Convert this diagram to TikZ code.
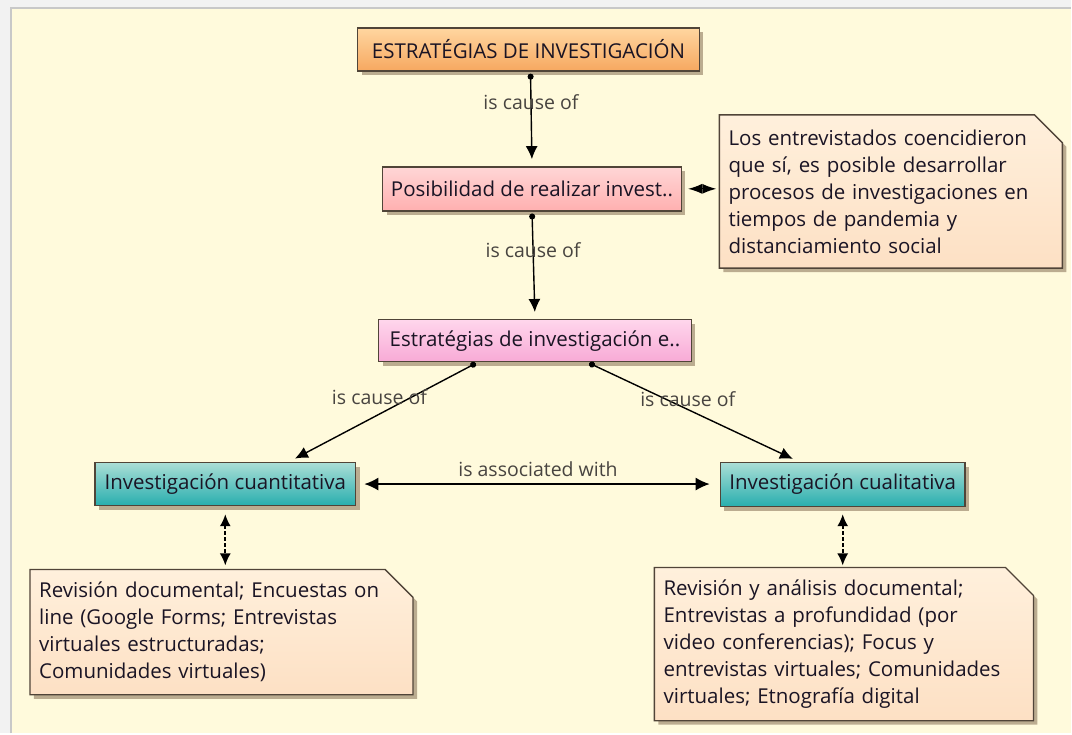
\documentclass[tikz,border=0pt]{standalone}
\usepackage{fontspec}
\setmainfont{Open Sans}
\usetikzlibrary{arrows.meta,shadows,backgrounds}

\definecolor{paper}{RGB}{255,250,220}
\definecolor{framecol}{RGB}{242,242,242}
\definecolor{rimcol}{RGB}{200,200,200}
\definecolor{edgecol}{RGB}{80,68,56}
\definecolor{inkcol}{RGB}{26,20,36}
\definecolor{linkcol}{RGB}{72,68,64}
\definecolor{shadecol}{RGB}{120,95,70}
\definecolor{orangetop}{RGB}{255,214,160}
\definecolor{orangebot}{RGB}{246,168,96}
\definecolor{rosetop}{RGB}{255,214,214}
\definecolor{rosebot}{RGB}{255,176,176}
\definecolor{pinktop}{RGB}{255,214,236}
\definecolor{pinkbot}{RGB}{248,170,214}
\definecolor{tealtop}{RGB}{170,222,214}
\definecolor{tealbot}{RGB}{40,174,174}
\definecolor{notetop}{RGB}{255,240,220}
\definecolor{notebot}{RGB}{253,224,196}

\begin{document}
\begin{tikzpicture}[x=1pt, y=-1pt,
    every node/.style = {font=\fontsize{20.5}{27}\selectfont, text=inkcol},
    boxshadow/.style = {drop shadow={shadow xshift=4pt, shadow yshift=-4pt, fill=shadecol, opacity=.5}},
    concept/.style = {draw=edgecol, line width=1.4pt, minimum height=43pt, inner sep=2pt, boxshadow},
    notetext/.style = {text width=#1, align=left, inner sep=9pt, anchor=north west},
    notebox/.style = {draw=edgecol, line width=1.4pt, top color=notetop, bottom color=notebot, boxshadow},
    cause/.style = {{Circle[length=6pt]}-{Latex[length=13pt,width=12pt]}, line width=1.4pt,
        shorten <=2pt, shorten >=7pt},
    assoc/.style = {{Latex[length=14pt,width=13pt]}-{Latex[length=14pt,width=13pt]}, line width=1.4pt},
    lbl/.style = {text=linkcol, inner sep=1pt, font=\fontsize{19.5}{24}\selectfont}]
    \tikzset{dashlink/.style = {{Latex[length=12pt,width=11pt]}-{Latex[length=12pt,width=11pt]},
        line width=1.7pt, dash pattern=on 4pt off 2pt}}

    \node[concept, top color=orangetop, bottom color=orangebot, minimum width=342pt] (root) at (529,49.5) {ESTRATÉGIAS DE INVESTIGACIÓN};
    \node[concept, top color=rosetop, bottom color=rosebot, minimum width=299pt, minimum height=44pt] (posib) at (532.5,189) {Posibilidad de realizar invest..};
    \node[concept, top color=pinktop, bottom color=pinkbot, minimum width=313pt, minimum height=42pt] (estrat) at (535.5,341) {Estratégias de investigación e..};
    \node[concept, top color=tealtop, bottom color=tealbot, minimum width=261pt] (cuanti) at (225.5,484.5) {Investigación cuantitativa};
    \node[concept, top color=tealtop, bottom color=tealbot, minimum width=245pt, minimum height=44pt] (cuali) at (843.5,485) {Investigación cualitativa};

    \node[notetext=325pt, minimum height=153pt] (pandemia) at (720,115)
        {Los entrevistados coencidieron\\que sí, es posible desarrollar\\procesos de investigaciones en\\tiempos de pandemia y\\distanciamiento social};
    \node[notetext=365pt, minimum height=125pt] (notecuanti) at (30,570)
        {Revisión documental; Encuestas on\\line (Google Forms; Entrevistas\\virtuales estructuradas;\\Comunidades virtuales)};
    \node[notetext=361pt, minimum height=153pt] (notecuali) at (655,568)
        {Revisión y análisis documental;\\Entrevistas a profundidad (por\\video conferencias); Focus y\\entrevistas virtuales; Comunidades\\virtuales; Etnografía digital};

    \begin{scope}[on background layer]
        \fill[framecol] (0,0) rectangle (1072,734);
        \fill[paper] (11,8) rectangle (1072,734);
        \draw[rimcol, line width=2pt] (11,734) -- (11,8) -- (1072,8);
        \foreach \n in {pandemia,notecuanti,notecuali}
            \draw[notebox] (\n.north west) -- ([xshift=-28pt]\n.north east) -- ([yshift=-28pt]\n.north east)
                -- (\n.south east) -- (\n.south west) -- cycle;
    \end{scope}

    \draw[cause] ([xshift=2pt]root.south) -- (posib.north) node[lbl, pos=.32] {is cause of};
    \draw[cause] (posib.south) -- (estrat.north) node[lbl, pos=.36] {is cause of};
    \draw[cause] ([xshift=-57.5pt]estrat.south) -- ([xshift=63.5pt]cuanti.north) node[lbl, pos=.35, xshift=-32pt] {is cause of};
    \draw[cause] ([xshift=52.5pt]estrat.south) -- ([xshift=-43.5pt]cuali.north) node[lbl, pos=.37, xshift=22pt] {is cause of};
    \draw[assoc, shorten <=8pt, shorten >=10pt] (cuanti.east) -- (cuanti.east -| cuali.west) node[lbl, midway, above=6pt] {is associated with};
    \draw[{Latex[length=14pt,width=10pt]}-{Latex[length=14pt,width=10pt]}, line width=1.3pt, shorten <=6pt, shorten >=3pt] (posib.east) -- (posib.east -| pandemia.west);
    \draw[dashlink, shorten <=8pt, shorten >=4pt] (cuanti.south) -- (cuanti.south |- notecuanti.north);
    \draw[dashlink, shorten <=7pt, shorten >=2pt] (cuali.south) -- (cuali.south |- notecuali.north);
\end{tikzpicture}
\end{document}
